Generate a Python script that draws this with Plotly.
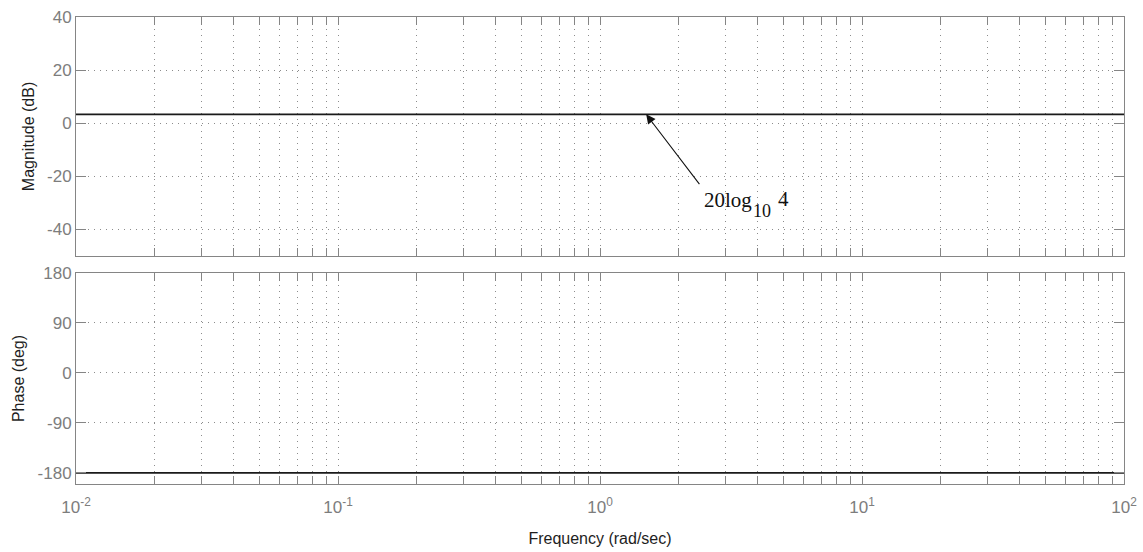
import numpy as np
import plotly.graph_objects as go
from plotly.subplots import make_subplots

# Frequency sweep end points (rad/sec) and the flat responses
freq = [0.01, 100.0]
magnitude_db = [3.35, 3.35]
phase_deg = [-180.0, -180.0]

# Point on the magnitude line the annotation arrow indicates, and the arrow tail
arrow_freq = 1.5
arrow_mag = 3.35
tail_freq = 2.42
tail_mag = -23.5

mag_ticks = [40, 20, 0, -20, -40]
phase_ticks = [180, 90, 0, -90, -180]
decades = [-2, -1, 0, 1]

# log-axis tick positions: every 1..9 multiple of each decade
x_ticks = [m * 10.0 ** d for d in decades for m in range(1, 10)] + [100.0]
x_text = [f"10<sup>{d}</sup>" if m == 1 else "" for d in decades for m in range(1, 10)] + ["10<sup>2</sup>"]

W, H = 1143, 552
L, R, T, B = 76, 19, 17, 68
plot_h = H - T - B
top_domain = [(484 - 256) / plot_h, 1.0]
bot_domain = [0.0, (484 - 273) / plot_h]

fig = make_subplots(rows=2, cols=1, shared_xaxes=False)

line_style = dict(color="#1a1a1a", width=1.6)
fig.add_trace(go.Scatter(x=freq, y=magnitude_db, mode="lines", line=line_style,
                         showlegend=False, hoverinfo="skip"), row=1, col=1)
fig.add_trace(go.Scatter(x=freq, y=phase_deg, mode="lines", line=line_style,
                         showlegend=False, hoverinfo="skip"), row=2, col=1)

frame = "#858585"
grid = "#8c8c8c"
sans = "Liberation Sans, Arial, sans-serif"
serif = "Liberation Serif, Times New Roman, serif"
tick_font = dict(family=sans, size=17, color="#7d7d7d")
title_font = dict(family=sans, size=16, color="#1e1e1e")

common_x = dict(type="log", range=[-2, 2], tickvals=x_ticks, ticktext=x_text,
                ticks="inside", ticklen=8, tickcolor=frame, showline=True,
                linecolor=frame, linewidth=1, mirror="ticks", showgrid=True,
                gridcolor=grid, griddash="1px,5px", gridwidth=1, zeroline=False,
                tickfont=tick_font, automargin=False)
common_y = dict(ticks="inside", ticklen=10, tickcolor=frame, showline=True,
                linecolor=frame, linewidth=1, mirror="ticks", showgrid=True,
                gridcolor=grid, griddash="1px,5px", gridwidth=1, zeroline=False,
                tickfont=tick_font, title_font=title_font, title_standoff=8,
                automargin=False)

fig.update_xaxes(**common_x, showticklabels=False, domain=[0, 1], row=1, col=1)
fig.update_xaxes(**common_x, showticklabels=True, domain=[0, 1], ticklabelstandoff=8,
                 title=dict(text="Frequency (rad/sec)", font=title_font, standoff=16),
                 row=2, col=1)
fig.update_yaxes(**common_y, range=[-50, 40], tickvals=mag_ticks,
                 ticktext=[str(v) for v in mag_ticks],
                 title_text="Magnitude (dB)", domain=top_domain, row=1, col=1)
fig.update_yaxes(**common_y, range=[-200, 180], tickvals=phase_ticks,
                 ticktext=[str(v) for v in phase_ticks],
                 title_text="Phase (deg)", domain=bot_domain, row=2, col=1)

# arrow pointing at the constant gain line
fig.add_annotation(x=np.log10(arrow_freq), y=arrow_mag, xref="x", yref="y",
                   ax=np.log10(tail_freq), ay=tail_mag, axref="x", ayref="y",
                   text="", showarrow=True, arrowhead=2, arrowsize=1.7,
                   arrowwidth=1.1, arrowcolor="#111111")

# "20log10 4" label, with the subscript set lower and slightly smaller
label_parts = [("20log", 2.45, -28.9, 21), ("10", 3.77, -33.0, 18), ("4", 4.70, -28.6, 21)]
for txt, fx, fy, fs in label_parts:
    fig.add_annotation(x=np.log10(fx), y=fy, xref="x", yref="y", text=txt,
                       showarrow=False, xanchor="left", yanchor="middle",
                       font=dict(family=serif, size=fs, color="#111111"))

fig.update_layout(width=W, height=H, margin=dict(l=L, r=R, t=T, b=B),
                  paper_bgcolor="white", plot_bgcolor="white")

fig.write_html("out.html")
